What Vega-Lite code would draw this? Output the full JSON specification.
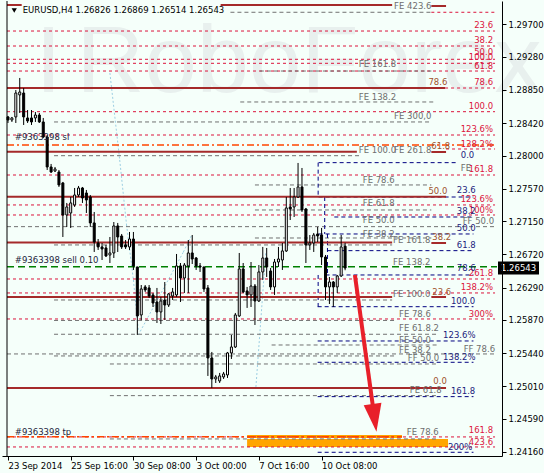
{
 "$schema": "https://vega.github.io/schema/vega-lite/v6.json",
 "width": 500, "height": 455,
 "padding": {"left": 2, "top": 1, "right": 42, "bottom": 17},
 "autosize": {"type": "none"},
 "background": "#F5FFFA",
 "config": {"view": {"stroke": null}, "axis": {"labelOverlap": false, "labelSeparation": 0}},
 "datasets": {
  "wm": [{"t":"I","x":7,"p":1.28823},{"t":"RoboForex","x":17.5,"p":1.28823}],
  "rects": [{"x1":61,"x2":100.5,"p1":1.24380,"p2":1.24342},{"x1":61,"x2":112.25,"p1":1.24329,"p2":1.24225}],
  "lines": [
   {"k":"b","x1":-0.25,"x2":3.5,"p1":1.29950,"p2":1.29950},
   {"k":"b","x1":54.25,"x2":98,"p1":1.29950,"p2":1.29950},
   {"k":"b","x1":108,"x2":111.75,"p1":1.29937,"p2":1.29937},
   {"k":"b","x1":-0.25,"x2":111.5,"p1":1.28875,"p2":1.28875},
   {"k":"b","x1":-0.25,"x2":89,"p1":1.28050,"p2":1.28050},
   {"k":"b","x1":108,"x2":111.75,"p1":1.28046,"p2":1.28046},
   {"k":"b","x1":-0.25,"x2":111.75,"p1":1.27467,"p2":1.27467},
   {"k":"b","x1":-0.25,"x2":98,"p1":1.26874,"p2":1.26874},
   {"k":"b","x1":108,"x2":111.75,"p1":1.26867,"p2":1.26867},
   {"k":"b","x1":-0.25,"x2":98,"p1":1.26168,"p2":1.26168},
   {"k":"b","x1":108,"x2":111.75,"p1":1.26168,"p2":1.26168},
   {"k":"b","x1":-0.25,"x2":111.75,"p1":1.24989,"p2":1.24989},
   {"k":"c","x1":108,"x2":124.25,"p1":1.29856,"p2":1.29856},
   {"k":"c","x1":-0.25,"x2":124.25,"p1":1.29613,"p2":1.29613},
   {"k":"c","x1":-0.25,"x2":124.25,"p1":1.29419,"p2":1.29419},
   {"k":"c","x1":-0.25,"x2":124.25,"p1":1.29247,"p2":1.29247},
   {"k":"c","x1":-0.25,"x2":124.25,"p1":1.29195,"p2":1.29195},
   {"k":"c","x1":-0.25,"x2":124.25,"p1":1.29095,"p2":1.29095},
   {"k":"c","x1":111.5,"x2":124.25,"p1":1.28875,"p2":1.28875},
   {"k":"c","x1":-0.25,"x2":124.25,"p1":1.28568,"p2":1.28568},
   {"k":"c","x1":-0.25,"x2":124.25,"p1":1.28266,"p2":1.28266},
   {"k":"c","x1":111.75,"x2":124.25,"p1":1.28085,"p2":1.28085},
   {"k":"c","x1":-0.25,"x2":124.25,"p1":1.27748,"p2":1.27748},
   {"k":"c","x1":-0.25,"x2":124.25,"p1":1.27360,"p2":1.27360},
   {"k":"c","x1":-0.25,"x2":124.25,"p1":1.27230,"p2":1.27230},
   {"k":"c","x1":-0.25,"x2":124.25,"p1":1.26401,"p2":1.26401},
   {"k":"c","x1":-0.25,"x2":124.25,"p1":1.26220,"p2":1.26220},
   {"k":"c","x1":-0.25,"x2":124.25,"p1":1.25883,"p2":1.25883},
   {"k":"c","x1":-0.25,"x2":124.25,"p1":1.24355,"p2":1.24355},
   {"k":"c","x1":-0.25,"x2":124.25,"p1":1.24225,"p2":1.24225},
   {"k":"g","x1":56.75,"x2":108,"p1":1.29856,"p2":1.29856},
   {"k":"g","x1":64.25,"x2":108,"p1":1.29095,"p2":1.29095},
   {"k":"g","x1":59.25,"x2":109,"p1":1.28694,"p2":1.28694},
   {"k":"g","x1":11.75,"x2":108,"p1":1.28435,"p2":1.28435},
   {"k":"g","x1":11.75,"x2":89.75,"p1":1.27998,"p2":1.27998},
   {"k":"g","x1":63,"x2":108,"p1":1.27619,"p2":1.27619},
   {"k":"g","x1":63,"x2":108,"p1":1.27295,"p2":1.27295},
   {"k":"g","x1":-0.25,"x2":124.25,"p1":1.27079,"p2":1.27079},
   {"k":"g","x1":63,"x2":108,"p1":1.26932,"p2":1.26932},
   {"k":"g","x1":11.75,"x2":98,"p1":1.26842,"p2":1.26842},
   {"k":"g","x1":11.75,"x2":98,"p1":1.26129,"p2":1.26129},
   {"k":"g","x1":11.75,"x2":98.5,"p1":1.25864,"p2":1.25864},
   {"k":"g","x1":11.75,"x2":109.75,"p1":1.25685,"p2":1.25685},
   {"k":"g","x1":67.25,"x2":109.75,"p1":1.25546,"p2":1.25546},
   {"k":"g","x1":-0.25,"x2":124.25,"p1":1.25430,"p2":1.25430},
   {"k":"g","x1":11.75,"x2":99,"p1":1.25404,"p2":1.25404},
   {"k":"g","x1":26,"x2":109.25,"p1":1.25300,"p2":1.25300},
   {"k":"g","x1":26,"x2":109.25,"p1":1.24890,"p2":1.24890},
   {"k":"g","x1":26,"x2":109.75,"p1":1.24329,"p2":1.24329},
   {"k":"n","x1":79.25,"x2":114.25,"p1":1.27908,"p2":1.27908},
   {"k":"n","x1":79.25,"x2":118.75,"p1":1.27463,"p2":1.27463},
   {"k":"n","x1":83.25,"x2":118.75,"p1":1.27204,"p2":1.27204},
   {"k":"n","x1":79.25,"x2":118.75,"p1":1.26984,"p2":1.26984},
   {"k":"n","x1":81.5,"x2":118.75,"p1":1.26768,"p2":1.26768},
   {"k":"n","x1":81,"x2":118.75,"p1":1.26453,"p2":1.26453},
   {"k":"n","x1":79,"x2":118.75,"p1":1.26042,"p2":1.26042},
   {"k":"n","x1":79,"x2":118.75,"p1":1.25598,"p2":1.25598},
   {"k":"n","x1":79,"x2":118.75,"p1":1.25322,"p2":1.25322},
   {"k":"n","x1":79,"x2":118.75,"p1":1.24877,"p2":1.24877},
   {"k":"n","x1":79,"x2":118.75,"p1":1.24156,"p2":1.24156},
   {"k":"n","x1":79.125,"x2":79.125,"p1":1.27908,"p2":1.27463},
   {"k":"n","x1":80.8,"x2":80.8,"p1":1.27463,"p2":1.26984},
   {"k":"n","x1":81.5,"x2":81.5,"p1":1.26984,"p2":1.26453},
   {"k":"n","x1":79.125,"x2":79.125,"p1":1.26453,"p2":1.26042},
   {"k":"d","x1":26,"x2":28.5,"p1":1.29069,"p2":1.27943},
   {"k":"d","x1":28.5,"x2":30.25,"p1":1.27943,"p2":1.27101},
   {"k":"d","x1":30.25,"x2":32,"p1":1.27101,"p2":1.26388},
   {"k":"d","x1":32,"x2":33.25,"p1":1.26388,"p2":1.25741},
   {"k":"d","x1":33.25,"x2":44.75,"p1":1.25676,"p2":1.26751},
   {"k":"d","x1":44.75,"x2":46.75,"p1":1.26751,"p2":1.26958},
   {"k":"d","x1":63.25,"x2":65.75,"p1":1.25002,"p2":1.26738}
  ],
  "orders": [
   {"k":"sl","x1":-0.25,"x2":124.5,"p":1.28137},
   {"k":"sell","x1":-0.25,"x2":124.75,"p":1.26560},
   {"k":"tp","x1":-0.25,"x2":100.5,"p":1.24358}
  ],
  "ohlc": [
   {"i":0,"o":1.28500,"h":1.28513,"l":1.28422,"c":1.28461},
   {"i":1,"o":1.28461,"h":1.28500,"l":1.28435,"c":1.28487},
   {"i":2,"o":1.28500,"h":1.28849,"l":1.28422,"c":1.28810},
   {"i":3,"o":1.28785,"h":1.29005,"l":1.28551,"c":1.28823},
   {"i":4,"o":1.28810,"h":1.28875,"l":1.28396,"c":1.28500},
   {"i":5,"o":1.28487,"h":1.28590,"l":1.28422,"c":1.28448},
   {"i":6,"o":1.28487,"h":1.28590,"l":1.28396,"c":1.28435},
   {"i":7,"o":1.28487,"h":1.28564,"l":1.28435,"c":1.28525},
   {"i":8,"o":1.28525,"h":1.28551,"l":1.28422,"c":1.28435},
   {"i":9,"o":1.28435,"h":1.28487,"l":1.28228,"c":1.28240},
   {"i":10,"o":1.28240,"h":1.28266,"l":1.27813,"c":1.27852},
   {"i":11,"o":1.27852,"h":1.27891,"l":1.27774,"c":1.27787},
   {"i":12,"o":1.27800,"h":1.27852,"l":1.27787,"c":1.27826},
   {"i":13,"o":1.27787,"h":1.27813,"l":1.27593,"c":1.27619},
   {"i":14,"o":1.27645,"h":1.27658,"l":1.26945,"c":1.27230},
   {"i":15,"o":1.27230,"h":1.27386,"l":1.27075,"c":1.27334},
   {"i":16,"o":1.27256,"h":1.27463,"l":1.27062,"c":1.27386},
   {"i":17,"o":1.27360,"h":1.27580,"l":1.27334,"c":1.27489},
   {"i":18,"o":1.27489,"h":1.27606,"l":1.27463,"c":1.27580},
   {"i":19,"o":1.27580,"h":1.27593,"l":1.27386,"c":1.27450},
   {"i":20,"o":1.27515,"h":1.27554,"l":1.27256,"c":1.27424},
   {"i":21,"o":1.27463,"h":1.27489,"l":1.27075,"c":1.27127},
   {"i":22,"o":1.27127,"h":1.27269,"l":1.26751,"c":1.26880},
   {"i":23,"o":1.26867,"h":1.26919,"l":1.26777,"c":1.26816},
   {"i":24,"o":1.26816,"h":1.26867,"l":1.26647,"c":1.26790},
   {"i":25,"o":1.26803,"h":1.26842,"l":1.26686,"c":1.26699},
   {"i":26,"o":1.26712,"h":1.26945,"l":1.26608,"c":1.26738},
   {"i":27,"o":1.26738,"h":1.27139,"l":1.26673,"c":1.27088},
   {"i":28,"o":1.27088,"h":1.27127,"l":1.26751,"c":1.26945},
   {"i":29,"o":1.26958,"h":1.26984,"l":1.26790,"c":1.26816},
   {"i":30,"o":1.26842,"h":1.26906,"l":1.26790,"c":1.26816},
   {"i":31,"o":1.26816,"h":1.27010,"l":1.26777,"c":1.26919},
   {"i":32,"o":1.26919,"h":1.27010,"l":1.26518,"c":1.26570},
   {"i":33,"o":1.26557,"h":1.26557,"l":1.25676,"c":1.25922},
   {"i":34,"o":1.25935,"h":1.26323,"l":1.25870,"c":1.26272},
   {"i":35,"o":1.26298,"h":1.26323,"l":1.26233,"c":1.26259},
   {"i":36,"o":1.26285,"h":1.26323,"l":1.26155,"c":1.26181},
   {"i":37,"o":1.26194,"h":1.26220,"l":1.26038,"c":1.26090},
   {"i":38,"o":1.26103,"h":1.26285,"l":1.25831,"c":1.25974},
   {"i":39,"o":1.25974,"h":1.26168,"l":1.25818,"c":1.26116},
   {"i":40,"o":1.26129,"h":1.26362,"l":1.25870,"c":1.26064},
   {"i":41,"o":1.26064,"h":1.26220,"l":1.26038,"c":1.26207},
   {"i":42,"o":1.26181,"h":1.26285,"l":1.26129,"c":1.26233},
   {"i":43,"o":1.26194,"h":1.26725,"l":1.26168,"c":1.26570},
   {"i":44,"o":1.26570,"h":1.26608,"l":1.26103,"c":1.26414},
   {"i":45,"o":1.26414,"h":1.26608,"l":1.26220,"c":1.26582},
   {"i":46,"o":1.26570,"h":1.26906,"l":1.26220,"c":1.26738},
   {"i":47,"o":1.26738,"h":1.26971,"l":1.26595,"c":1.26660},
   {"i":48,"o":1.26673,"h":1.26686,"l":1.26518,"c":1.26570},
   {"i":49,"o":1.26570,"h":1.26608,"l":1.26492,"c":1.26557},
   {"i":50,"o":1.26557,"h":1.26557,"l":1.26233,"c":1.26272},
   {"i":51,"o":1.26285,"h":1.26323,"l":1.25145,"c":1.25378},
   {"i":52,"o":1.25378,"h":1.25456,"l":1.24989,"c":1.25106},
   {"i":53,"o":1.25106,"h":1.25158,"l":1.25054,"c":1.25132},
   {"i":54,"o":1.25080,"h":1.25184,"l":1.25054,"c":1.25145},
   {"i":55,"o":1.25132,"h":1.25197,"l":1.25106,"c":1.25171},
   {"i":56,"o":1.25158,"h":1.25456,"l":1.25119,"c":1.25443},
   {"i":57,"o":1.25443,"h":1.25676,"l":1.25365,"c":1.25520},
   {"i":58,"o":1.25520,"h":1.25961,"l":1.25507,"c":1.25935},
   {"i":59,"o":1.25922,"h":1.26738,"l":1.25909,"c":1.26531},
   {"i":60,"o":1.26531,"h":1.26608,"l":1.26220,"c":1.26233},
   {"i":61,"o":1.26246,"h":1.26298,"l":1.26026,"c":1.26194},
   {"i":62,"o":1.26194,"h":1.26621,"l":1.26038,"c":1.26310},
   {"i":63,"o":1.26310,"h":1.26336,"l":1.25805,"c":1.26116},
   {"i":64,"o":1.26116,"h":1.26582,"l":1.26103,"c":1.26492},
   {"i":65,"o":1.26492,"h":1.26816,"l":1.26388,"c":1.26673},
   {"i":66,"o":1.26673,"h":1.26803,"l":1.26427,"c":1.26557},
   {"i":67,"o":1.26505,"h":1.26544,"l":1.26259,"c":1.26298},
   {"i":68,"o":1.26298,"h":1.26660,"l":1.26194,"c":1.26621},
   {"i":69,"o":1.26621,"h":1.26816,"l":1.26557,"c":1.26660},
   {"i":70,"o":1.26647,"h":1.26867,"l":1.26518,"c":1.26764},
   {"i":71,"o":1.26764,"h":1.27463,"l":1.26751,"c":1.27321},
   {"i":72,"o":1.27334,"h":1.27580,"l":1.27165,"c":1.27308},
   {"i":73,"o":1.27334,"h":1.27580,"l":1.27204,"c":1.27463},
   {"i":74,"o":1.27463,"h":1.27904,"l":1.27450,"c":1.27593},
   {"i":75,"o":1.27593,"h":1.27839,"l":1.27269,"c":1.27295},
   {"i":76,"o":1.27308,"h":1.27321,"l":1.26608,"c":1.26842},
   {"i":77,"o":1.26842,"h":1.26971,"l":1.26777,"c":1.26867},
   {"i":78,"o":1.26867,"h":1.26997,"l":1.26751,"c":1.26971},
   {"i":79,"o":1.26984,"h":1.27075,"l":1.26880,"c":1.26958},
   {"i":80,"o":1.26971,"h":1.27062,"l":1.26582,"c":1.26686},
   {"i":81,"o":1.26686,"h":1.26712,"l":1.26129,"c":1.26298},
   {"i":82,"o":1.26298,"h":1.26427,"l":1.26077,"c":1.26362},
   {"i":83,"o":1.26362,"h":1.26375,"l":1.26038,"c":1.26298},
   {"i":84,"o":1.26298,"h":1.26453,"l":1.26220,"c":1.26440},
   {"i":85,"o":1.26440,"h":1.26971,"l":1.26427,"c":1.26816},
   {"i":86,"o":1.26826,"h":1.26869,"l":1.26514,"c":1.26543}
  ],
  "arrow": [{"x1":88.5,"p1":1.26453,"x2":93.5,"p2":1.24601}],
  "lblR": [
   {"t":"23.6","x":123.75,"p":1.29691,"k":"c"},
   {"t":"38.2","x":123.75,"p":1.29497,"k":"c"},
   {"t":"50.0","x":123.75,"p":1.29341,"k":"c"},
   {"t":"100.0","x":123.75,"p":1.29277,"k":"c"},
   {"t":"61.8","x":123.75,"p":1.29160,"k":"c"},
   {"t":"78.6","x":123.75,"p":1.28953,"k":"c"},
   {"t":"100.0","x":123.75,"p":1.28642,"k":"c"},
   {"t":"123.6%","x":123.75,"p":1.28344,"k":"c"},
   {"t":"138.2%","x":123.75,"p":1.28150,"k":"c"},
   {"t":"161.8","x":123.75,"p":1.27826,"k":"c"},
   {"t":"123.6%","x":123.75,"p":1.27437,"k":"c"},
   {"t":"100%","x":123.75,"p":1.27295,"k":"c"},
   {"t":"FF 50.0","x":124,"p":1.27152,"k":"g"},
   {"t":"261.8","x":123.75,"p":1.26479,"k":"c"},
   {"t":"138.2%","x":123.75,"p":1.26298,"k":"c"},
   {"t":"300%","x":123.75,"p":1.25948,"k":"c"},
   {"t":"FF 78.6","x":124.25,"p":1.25494,"k":"g"},
   {"t":"161.8","x":123.75,"p":1.24445,"k":"c"},
   {"t":"423.6","x":123.75,"p":1.24290,"k":"c"}
  ],
  "lblL": [
   {"t":"FE 423.6","x":98.5,"p":1.29937,"k":"g"},
   {"t":"FE 161.8","x":89.5,"p":1.29186,"k":"g"},
   {"t":"78.6","x":107.25,"p":1.28953,"k":"b"},
   {"t":"FE 138.2","x":89.5,"p":1.28759,"k":"g"},
   {"t":"FE 300,0","x":98.5,"p":1.28513,"k":"g"},
   {"t":"FE 100.0","x":89.5,"p":1.28072,"k":"g"},
   {"t":"FE 261.8","x":98.5,"p":1.28072,"k":"g"},
   {"t":"61.8","x":108,"p":1.28124,"k":"b"},
   {"t":"0.0","x":115.5,"p":1.28007,"k":"n"},
   {"t":"FE","x":115.5,"p":1.27839,"k":"g"},
   {"t":"FE 78.6","x":90.5,"p":1.27683,"k":"g"},
   {"t":"50.0","x":107.25,"p":1.27541,"k":"b"},
   {"t":"23.6","x":114.5,"p":1.27554,"k":"n"},
   {"t":"FE 61.8","x":90.5,"p":1.27386,"k":"g"},
   {"t":"38.2","x":114.5,"p":1.27282,"k":"n"},
   {"t":"FE 50.0","x":90.5,"p":1.27165,"k":"g"},
   {"t":"50.0","x":114.5,"p":1.27062,"k":"n"},
   {"t":"FE 38.2","x":90.5,"p":1.26984,"k":"g"},
   {"t":"FE 161.8","x":98.25,"p":1.26906,"k":"g"},
   {"t":"38.2","x":108.25,"p":1.26945,"k":"b"},
   {"t":"61.8","x":114.5,"p":1.26842,"k":"n"},
   {"t":"FE 138.2","x":98.25,"p":1.26621,"k":"g"},
   {"t":"78.6","x":114.5,"p":1.26544,"k":"n"},
   {"t":"FE 100.0","x":98.25,"p":1.26207,"k":"g"},
   {"t":"23.6","x":108.25,"p":1.26233,"k":"b"},
   {"t":"100.0","x":113,"p":1.26116,"k":"n"},
   {"t":"FE 78.6","x":99.75,"p":1.25948,"k":"g"},
   {"t":"FE 61.8.2","x":99.75,"p":1.25766,"k":"g"},
   {"t":"123.6%","x":111,"p":1.25676,"k":"n"},
   {"t":"FE 50.0","x":99.75,"p":1.25611,"k":"g"},
   {"t":"FE 38.2","x":99.75,"p":1.25481,"k":"g"},
   {"t":"FF 50.0","x":102,"p":1.25378,"k":"g"},
   {"t":"138.2%","x":111,"p":1.25391,"k":"n"},
   {"t":"0.0","x":108.5,"p":1.25080,"k":"b"},
   {"t":"FE 61.8","x":102.5,"p":1.24963,"k":"g"},
   {"t":"161.8","x":113,"p":1.24950,"k":"n"},
   {"t":"FE 78.6","x":101.75,"p":1.24419,"k":"g"},
   {"t":"200%","x":112.25,"p":1.24225,"k":"n"},
   {"t":"#9363398 sl","x":1.75,"p":1.28240,"k":"o"},
   {"t":"#9363398 sell 0.10","x":1.75,"p":1.26647,"k":"o"},
   {"t":"#9363398 tp","x":1.75,"p":1.24419,"k":"o"}
  ],
  "head": [{"t":"EURUSD,H4  1.26826 1.26869 1.26514 1.26543","x":3.75,"p":1.29879,"tx":1.6}],
  "last": [{"p":1.26543}]
 },
 "layer": [
  {"data":{"name":"wm"},
   "mark":{"type":"text","align":"left","baseline":"alphabetic","font":"Liberation Sans","fontSize":94,"fill":"#E8F0EE"},
   "encoding":{
    "x":{"field":"x","type":"quantitative","title":null,"scale":{"domain":[-0.25,124.75],"nice":false,"zero":false},
     "axis":{"title":null,"zindex":1,"values":[0,16,32,48,64,80],"tickCount":20,"labelExpr":"['23 Sep 2014','25 Sep 16:00','30 Sep 08:00','3 Oct 00:00','7 Oct 16:00','10 Oct 08:00'][round(datum.value/16)]","labelAlign":"left","labelFlush":false,"labelOverlap":false,"tickSize":4,"labelPadding":1,"grid":false,"domainColor":"black","tickColor":"black","labelColor":"black","labelFont":"DejaVu Sans","labelFontSize":8.5}},
    "y":{"field":"p","type":"quantitative","title":null,"scale":{"domain":[1.24108,1.30002],"nice":false,"zero":false},
     "axis":{"title":null,"zindex":1,"orient":"right","values":[1.297,1.2928,1.2885,1.2842,1.28,1.2757,1.2715,1.2672,1.2629,1.2587,1.2544,1.2501,1.2459,1.2416],"tickCount":40,"format":".5f","tickSize":4,"labelPadding":2,"grid":false,"domainColor":"black","tickColor":"black","labelColor":"black","labelFont":"DejaVu Sans","labelFontSize":8.5,"labelOverlap":false}},
    "text":{"field":"t"}}},
  {"data":{"name":"rects"},"mark":{"type":"rect","color":"#FFA500"},
   "encoding":{"x":{"field":"x1","type":"quantitative"},"x2":{"field":"x2"},"y":{"field":"p1","type":"quantitative"},"y2":{"field":"p2"}}},
  {"data":{"name":"lines"},"transform":[{"filter":"datum.k=='d'"}],"mark":{"type":"rule","color":"#9CCFE3","strokeDash":[2,2],"strokeWidth":1},
   "encoding":{"x":{"field":"x1","type":"quantitative"},"x2":{"field":"x2"},"y":{"field":"p1","type":"quantitative"},"y2":{"field":"p2"}}},
  {"data":{"name":"lines"},"transform":[{"filter":"datum.k=='c'"}],"mark":{"type":"rule","color":"#DC143C","strokeDash":[3,3],"strokeWidth":1},
   "encoding":{"x":{"field":"x1","type":"quantitative"},"x2":{"field":"x2"},"y":{"field":"p1","type":"quantitative"},"y2":{"field":"p2"}}},
  {"data":{"name":"lines"},"transform":[{"filter":"datum.k=='g'"}],"mark":{"type":"rule","color":"#707070","strokeDash":[4,3],"strokeWidth":1},
   "encoding":{"x":{"field":"x1","type":"quantitative"},"x2":{"field":"x2"},"y":{"field":"p1","type":"quantitative"},"y2":{"field":"p2"}}},
  {"data":{"name":"lines"},"transform":[{"filter":"datum.k=='n'"}],"mark":{"type":"rule","color":"#000080","strokeDash":[4,3],"strokeWidth":1},
   "encoding":{"x":{"field":"x1","type":"quantitative"},"x2":{"field":"x2"},"y":{"field":"p1","type":"quantitative"},"y2":{"field":"p2"}}},
  {"data":{"name":"lines"},"transform":[{"filter":"datum.k=='b'"}],"mark":{"type":"rule","color":"#A52A2A","strokeWidth":2},
   "encoding":{"x":{"field":"x1","type":"quantitative"},"x2":{"field":"x2"},"y":{"field":"p1","type":"quantitative"},"y2":{"field":"p2"}}},
  {"data":{"name":"orders"},"transform":[{"filter":"datum.k!='sell'"}],"mark":{"type":"rule","color":"#FF4500","strokeDash":[7,3,2,3],"strokeWidth":1.5},
   "encoding":{"x":{"field":"x1","type":"quantitative"},"x2":{"field":"x2"},"y":{"field":"p","type":"quantitative"}}},
  {"data":{"name":"orders"},"transform":[{"filter":"datum.k=='sell'"}],"mark":{"type":"rule","color":"#008000","strokeDash":[7,4],"strokeWidth":1.5},
   "encoding":{"x":{"field":"x1","type":"quantitative"},"x2":{"field":"x2"},"y":{"field":"p","type":"quantitative"}}},
  {"data":{"name":"ohlc"},"mark":{"type":"rule","color":"black","strokeWidth":1},
   "encoding":{"x":{"field":"i","type":"quantitative"},"y":{"field":"l","type":"quantitative"},"y2":{"field":"h"}}},
  {"data":{"name":"ohlc"},"mark":{"type":"bar","width":2,"stroke":"black","strokeWidth":1},
   "encoding":{"x":{"field":"i","type":"quantitative"},"y":{"field":"o","type":"quantitative"},"y2":{"field":"c"},
    "fill":{"condition":{"test":"datum.c>=datum.o","value":"white"},"value":"black"}}},
  {"data":{"name":"arrow"},"mark":{"type":"rule","color":"#E8202A","strokeWidth":4},
   "encoding":{"x":{"field":"x1","type":"quantitative"},"x2":{"field":"x2"},"y":{"field":"p1","type":"quantitative"},"y2":{"field":"p2"}}},
  {"data":{"name":"arrow"},"mark":{"type":"point","shape":"M0,1L-0.64,-1L0.64,-1Z","size":784,"angle":352,"filled":true,"color":"#E8202A","opacity":1},
   "encoding":{"x":{"field":"x2","type":"quantitative"},"y":{"field":"p2","type":"quantitative"}}},
  {"data":{"name":"lblR"},"mark":{"type":"text","align":"right","baseline":"middle","font":"DejaVu Sans","fontSize":8.5},
   "encoding":{"x":{"field":"x","type":"quantitative"},"y":{"field":"p","type":"quantitative"},"text":{"field":"t"},
    "color":{"field":"k","type":"nominal","legend":null,"scale":{"domain":["g","c","n","b","o"],"range":["#6E6E6E","#DC143C","#1C1C7C","#A0522D","#1E1E3C"]}}}},
  {"data":{"name":"lblL"},"mark":{"type":"text","align":"left","baseline":"middle","font":"DejaVu Sans","fontSize":8.5},
   "encoding":{"x":{"field":"x","type":"quantitative"},"y":{"field":"p","type":"quantitative"},"text":{"field":"t"},
    "color":{"field":"k","type":"nominal","legend":null,"scale":{"domain":["g","c","n","b","o"],"range":["#6E6E6E","#DC143C","#1C1C7C","#A0522D","#1E1E3C"]}}}},
  {"data":{"name":"head"},"mark":{"type":"text","align":"left","baseline":"middle","font":"DejaVu Sans","fontSize":8.5,"fill":"black"},
   "encoding":{"x":{"field":"x","type":"quantitative"},"y":{"field":"p","type":"quantitative"},"text":{"field":"t"}}},
  {"data":{"name":"head"},"mark":{"type":"point","shape":"triangle-down","size":28,"filled":true,"color":"black","opacity":1},
   "encoding":{"x":{"field":"tx","type":"quantitative"},"y":{"field":"p","type":"quantitative"}}},
  {"data":{"name":"last"},"mark":{"type":"rule","color":"black","strokeWidth":1},
   "encoding":{"x":{"datum":-0.25}}},
  {"data":{"name":"last"},"mark":{"type":"rect","color":"black","xOffset":1,"x2Offset":42,"yOffset":-6.5,"y2Offset":6.5},
   "encoding":{"x":{"datum":124.75},"x2":{"datum":124.75},"y":{"field":"p","type":"quantitative"},"y2":{"field":"p"}}},
  {"data":{"name":"last"},"mark":{"type":"text","align":"left","baseline":"middle","dx":4,"font":"DejaVu Sans","fontSize":8.5,"fill":"white"},
   "encoding":{"x":{"datum":124.75},"y":{"field":"p","type":"quantitative"},"text":{"field":"p","type":"quantitative","format":".5f"}}}
 ]
}
